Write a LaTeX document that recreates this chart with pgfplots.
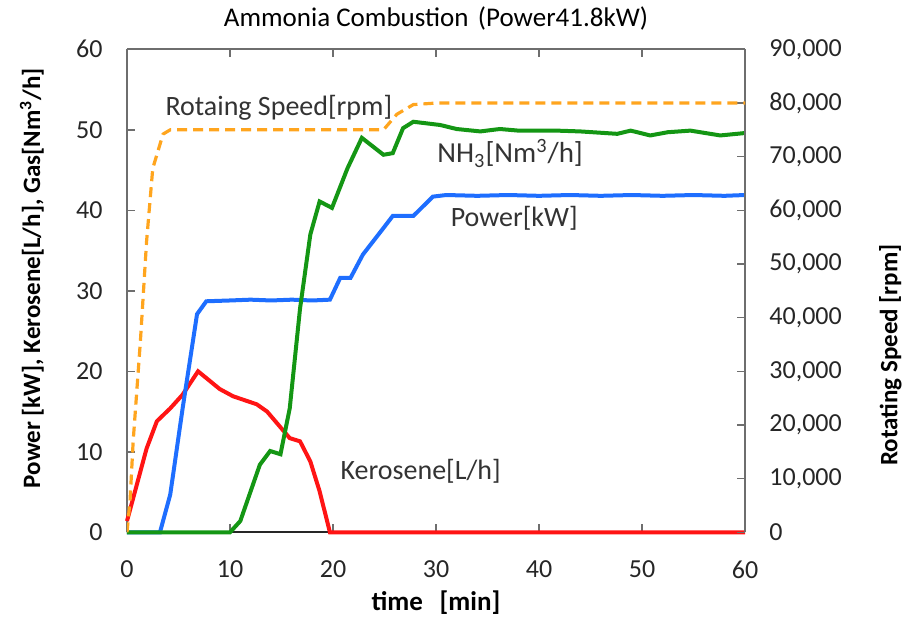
\documentclass[border=0pt]{standalone}
\usepackage{fontspec}
\setmainfont{Carlito}
\usepackage{pgfplots}
\pgfplotsset{compat=1.18}

\definecolor{kero}{RGB}{255,20,20}
\definecolor{pow}{RGB}{30,110,255}
\definecolor{nh3}{RGB}{20,150,20}
\definecolor{rpm}{RGB}{255,165,30}
\definecolor{frame}{RGB}{110,110,110}

\begin{document}
\begin{tikzpicture}
\pgfplotsset{
  every axis title shift=0pt,
  common/.style={
    scale only axis, width=309pt, height=241.5pt,
    xmin=0, xmax=60, xtick={0,10,...,60},
    axis line style={frame, line width=1pt},
    tick style={frame, line width=0.8pt},
    major tick length=4pt,
    tick label style={font=\fontsize{13}{15}\selectfont, text=black!85},
    /pgf/number format/assume math mode=true,
  },
}
\begin{axis}[common, name=main,
    ymin=0, ymax=60, ytick={0,10,...,60},
    axis y line*=left, axis x line*=bottom,
    x axis line style={black!85},
    yticklabel style={inner sep=0pt, xshift=-12pt},
    xticklabel style={inner sep=0pt, yshift=-14pt},
    xlabel={\bfseries time\ \ \,[min]},
    xlabel style={font=\fontsize{13.5}{15}\selectfont, at={(axis description cs:0.5,-0.145)}, anchor=center},
    ylabel={\bfseries Power [kW], Kerosene[L/h], Gas[Nm\textsuperscript{3}/h]},
    ylabel style={font=\fontsize{12.5}{14}\selectfont, at={(axis description cs:-0.154,0.526)}, anchor=center},
    title={Ammonia Combustion\hspace{0.35em}(Power41.8kW)},
    title style={font=\fontsize{13.5}{15}\selectfont, at={(axis description cs:0.5,1.064)}, anchor=center},
    clip=false,
]
% Kerosene [L/h]
\addplot[kero, line width=2pt] coordinates {
  (0,1.4) (1.9,10.4) (2.9,13.8) (4.2,15.4) (5.4,17.1) (6.9,20.0) (9.0,17.8)
  (10.3,16.9) (12.6,15.9) (13.6,15.0) (15.8,11.7) (16.8,11.3) (17.8,8.8)
  (18.7,5.1) (19.7,0) (60,0)};
% Power [kW]
\addplot[pow, line width=2pt] coordinates {
  (0,0) (3.2,0) (4.2,4.7) (5.4,15.4) (6.8,27.1) (7.7,28.7) (10,28.8) (12,28.9)
  (14,28.8) (16,28.9) (18,28.8) (19.7,28.9) (20.7,31.6) (21.7,31.6) (22.9,34.5)
  (24.9,37.8) (25.8,39.3) (27.8,39.3) (29.7,41.7) (31,41.9) (34,41.8) (37,41.9)
  (40,41.8) (43,41.9) (46,41.8) (49,41.9) (52,41.8) (55,41.9) (58,41.8) (60,41.9)};
% NH3 [Nm3/h]
\addplot[nh3, line width=2pt] coordinates {
  (0,0) (10,0) (11,1.4) (12.9,8.4) (13.9,10.1) (14.9,9.7) (15.8,15.4)
  (16.8,27.8) (17.8,37.0) (18.7,41.1) (19.9,40.3) (21.4,45.2) (22.8,49.0)
  (24.9,46.9) (25.8,47.1) (26.8,50.2) (27.8,51.0) (30.4,50.6) (32,50.1)
  (34.3,49.8) (36.2,50.1) (38,49.9) (41.7,49.9) (44,49.8) (47.6,49.5)
  (48.9,49.9) (50.8,49.3) (52.5,49.7) (54.7,49.9) (57.6,49.3) (60,49.6)};
\node[anchor=west, font=\fontsize{14}{16}\selectfont, text=black!80, inner sep=0pt] at (axis cs:3.7,52.7) {Rotaing Speed[rpm]};
\node[anchor=west, font=\fontsize{14.5}{16}\selectfont, text=black!80, inner sep=0pt] at (axis cs:30.1,47.1) {NH\textsubscript{3}[Nm\textsuperscript{3}/h]};
\node[anchor=west, font=\fontsize{14}{16}\selectfont, text=black!80, inner sep=0pt] at (axis cs:31.4,39.0) {Power[kW]};
\node[anchor=west, font=\fontsize{14}{16}\selectfont, text=black!80, inner sep=0pt] at (axis cs:20.7,7.6) {Kerosene[L/h]};
\end{axis}
\begin{axis}[common,
    ymin=0, ymax=90000, ytick={0,10000,...,90000},
    scaled y ticks=false,
    yticklabel style={inner sep=0pt, xshift=12pt, /pgf/number format/.cd, fixed, 1000 sep={,}},
    axis y line*=right, axis x line*=top, xticklabels={},
    ylabel={\bfseries Rotating Speed [rpm]},
    ylabel style={font=\fontsize{12.5}{14}\selectfont, at={(axis description cs:1.235,0.367)}, anchor=center},
]
% Rotating speed [rpm]
\addplot[rpm, line width=1.6pt, dash pattern=on 5pt off 3pt] coordinates {
  (0,0) (0.3,6000) (0.6,17000) (1.3,35600) (1.9,54200) (2.5,67800) (3.5,74200)
  (4.2,75000) (10,75000) (20,75000) (24.9,75000) (26.2,77900) (27.8,79700)
  (30.1,80000) (40,80000) (50,80000) (60,80000)};
\end{axis}
\path ([xshift=-63.5pt,yshift=-46pt]main.south west) rectangle ([xshift=84.5pt,yshift=24pt]main.north east);
\end{tikzpicture}
\end{document}
